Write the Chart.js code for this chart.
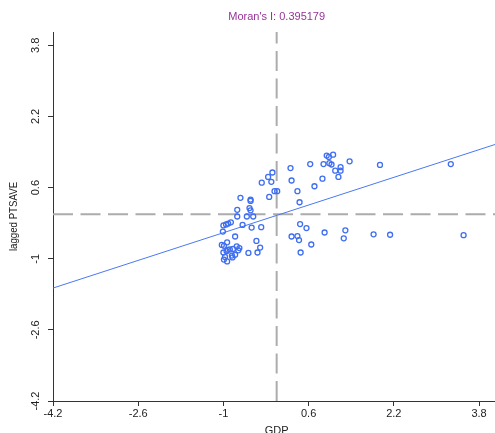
<!DOCTYPE html>
<html>
<head>
<meta charset="utf-8">
<script src="https://cdn.jsdelivr.net/npm/chart.js@4.4.1/dist/chart.umd.min.js"></script>
<style>
  html, body { margin: 0; padding: 0; background: #fff; }
  canvas { display: block; }
</style>
</head>
<body>
<canvas id="moranChart" width="495" height="433" style="width:495px;height:433px"></canvas>
<script>
// values (standardised GDP vs lagged PTSAVE)
var gdp = [
  -0.08, -0.16, -0.10, -0.28, -0.04, 0.01, -0.14, -0.68, -0.49, -0.49,
  -0.74, -0.51, -0.49, -0.74, -0.56, -0.44, -0.86, -0.91, -0.95, -1.00,
  -0.64, -0.47, -0.29, -1.01, -0.78, -0.38, -0.93, -1.03, -0.99, -0.75,
  -0.31, -0.88, -0.82, -0.92, -0.72, -1.00, -0.94, -0.53, -0.36, -0.84,
  -0.78, -0.97, -0.83, -0.99, -0.93, -0.70,
  0.94, 0.98, 1.06, 0.63, 0.88, 0.99, 1.03, 1.37, 1.20, 1.10,
  1.20, 0.26, 0.28, 0.86, 1.16, 0.71, 0.39, 0.43, 1.94, 3.27,
  0.44, 0.56, 0.90, 1.29, 1.26, 1.82, 2.13, 3.51, 0.28, 0.39,
  0.42, 0.65, 0.45
];
var laggedPtsave = [
  0.94, 0.84, 0.73, 0.71, 0.52, 0.52, 0.39, 0.37, 0.33, 0.30,
  0.10, 0.14, 0.09, -0.05, -0.05, -0.05, -0.18, -0.21, -0.23, -0.25,
  -0.24, -0.30, -0.29, -0.39, -0.50, -0.60, -0.63, -0.69, -0.71, -0.72,
  -0.75, -0.79, -0.78, -0.80, -0.81, -0.86, -0.83, -0.87, -0.86, -0.93,
  -0.91, -0.96, -0.97, -1.02, -1.06, -0.76,
  1.32, 1.29, 1.34, 1.13, 1.13, 1.15, 1.12, 1.19, 1.06, 0.98,
  0.98, 1.04, 0.76, 0.80, 0.84, 0.63, 0.52, 0.27, 1.11, 1.13,
  -0.22, -0.31, -0.41, -0.36, -0.54, -0.45, -0.46, -0.47, -0.50, -0.49,
  -0.58, -0.68, -0.86
];
var xTicks = [-4.2, -2.6, -1, 0.6, 2.2, 3.8];
var yTicks = [-4.2, -2.6, -1, 0.6, 2.2, 3.8];
var fitX = [-4.2, 4.1];
var fitY = [-1.66, 1.57];
var meanX = 0;
var meanY = 0;
var axisMin = -4.2;
var axisMax = 4.1;
var chartTitle = "Moran's I: 0.395179";
var xTitle = "GDP";
var yTitle = "lagged PTSAVE";

var tickFont = '11px "Liberation Sans", Arial, sans-serif';

var points = [];
for (var i = 0; i < gdp.length; i++) {
  points.push({ x: gdp[i], y: laggedPtsave[i] });
}

// R-style text: rotated y ticks, title, axis titles
var textPlugin = {
  id: 'rtext',
  afterDraw: function(chart) {
    var c = chart.ctx;
    var a = chart.chartArea;
    var xs = chart.scales.x, ys = chart.scales.y;
    c.save();
    c.fillStyle = '#222';
    c.font = tickFont;
    c.textAlign = 'center';
    c.textBaseline = 'middle';

    xTicks.forEach(function(v) {
      c.fillText(String(v), xs.getPixelForValue(v), a.bottom + 13);
    });
    yTicks.forEach(function(v) {
      c.save();
      c.translate(a.left - 17, ys.getPixelForValue(v));
      c.rotate(-Math.PI / 2);
      c.fillText(String(v), 0, 0);
      c.restore();
    });

    // y title, a bit condensed like the original
    c.save();
    c.translate(14, (a.top + a.bottom) / 2);
    c.rotate(-Math.PI / 2);
    c.scale(0.88, 1);
    c.fillText(yTitle, 0, 0);
    c.restore();

    c.fillText(xTitle, xs.getPixelForValue(meanX), a.bottom + 30);

    c.fillStyle = '#993399';
    c.fillText(chartTitle, xs.getPixelForValue(meanX), 17);
    c.restore();
  }
};

var ctx = document.getElementById('moranChart').getContext('2d');
var myChart = new Chart(ctx, {
  type: 'scatter',
  data: {
    datasets: [
      {
        label: 'points',
        data: points,
        pointStyle: 'circle',
        pointRadius: 2.5,
        pointBorderWidth: 1.3,
        borderColor: '#3f6ff0',
        backgroundColor: 'rgba(0,0,0,0)'
      },
      {
        label: 'fit',
        data: [{ x: fitX[0], y: fitY[0] }, { x: fitX[1], y: fitY[1] }],
        showLine: true,
        pointRadius: 0,
        borderColor: '#4a78f0',
        borderWidth: 1
      },
      {
        label: 'meanX',
        data: [{ x: meanX, y: axisMin }, { x: meanX, y: axisMax }],
        showLine: true,
        pointRadius: 0,
        borderColor: '#acacac',
        borderWidth: 2,
        borderDash: [20, 7.5]
      },
      {
        label: 'meanY',
        data: [{ x: axisMin, y: meanY }, { x: axisMax, y: meanY }],
        showLine: true,
        pointRadius: 0,
        borderColor: '#acacac',
        borderWidth: 2,
        borderDash: [20, 7.5]
      }
    ]
  },
  options: {
    responsive: false,
    animation: false,
    layout: { autoPadding: false, padding: { top: 32, left: 0, right: 0, bottom: 0 } },
    plugins: {
      legend: { display: false },
      tooltip: { enabled: false },
      title: { display: false }
    },
    scales: {
      x: {
        type: 'linear',
        min: axisMin,
        max: axisMax,
        afterBuildTicks: function(s) { s.ticks = xTicks.map(function(v) { return { value: v }; }); },
        afterFit: function(s) { s.height = 32; },
        ticks: { display: false },
        grid: { drawOnChartArea: false, drawTicks: true, tickLength: 5, color: '#333', lineWidth: 1 },
        border: { display: true, color: '#333', width: 1 }
      },
      y: {
        type: 'linear',
        min: axisMin,
        max: axisMax,
        afterBuildTicks: function(s) { s.ticks = yTicks.map(function(v) { return { value: v }; }); },
        afterFit: function(s) { s.width = 53; },
        ticks: { display: false },
        grid: { drawOnChartArea: false, drawTicks: true, tickLength: 5, color: '#333', lineWidth: 1 },
        border: { display: true, color: '#333', width: 1 }
      }
    }
  },
  plugins: [textPlugin]
});
</script>
</body>
</html>
